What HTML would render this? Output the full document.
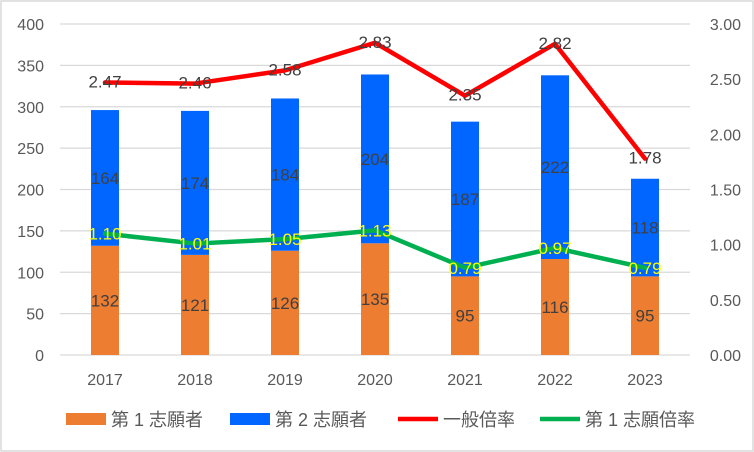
<!DOCTYPE html>
<html><head><meta charset="utf-8"><style>
body{margin:0;background:#fff}
svg{display:block;font-family:"Liberation Sans","Noto Sans CJK JP",sans-serif}
</style></head><body>
<svg id="c" width="754" height="452">
<rect x="1" y="1" width="752" height="450" fill="#fff" stroke="#d9d9d9" stroke-width="1.5"/>
</svg>
<script>
const years=["2017","2018","2019","2020","2021","2022","2023"];
const first=[132,121,126,135,95,116,95];
const second=[164,174,184,204,187,222,118];
const general=[2.47,2.46,2.58,2.83,2.35,2.82,1.78];
const firstRatio=[1.10,1.01,1.05,1.13,0.79,0.97,0.79];
const leftTicks=[0,50,100,150,200,250,300,350,400];
const rightTicks=[0,0.5,1,1.5,2,2.5,3];
const NS="http://www.w3.org/2000/svg";
const svg=document.getElementById('c');
const L=60,R=690,T=24,B=355;
const yL=v=>B-(v/400)*(B-T);
const yR=v=>B-(v/3)*(B-T);
const xC=i=>L+(R-L)/years.length*(i+0.5);
function mk(tag,attrs,txt){const e=document.createElementNS(NS,tag);for(const k in attrs)e.setAttribute(k,attrs[k]);if(txt!==undefined)e.textContent=txt;svg.appendChild(e);return e;}
leftTicks.forEach(v=>{
 const g=mk('line',{x1:L,x2:R,y1:yL(v),y2:yL(v),stroke:'#d9d9d9','stroke-width':1.3});
 
 
 const t=mk('text',{x:44,y:yL(v)+6,'text-anchor':'end','font-size':16,fill:'#595959'},String(v));
 
 
});
rightTicks.forEach(v=>{
 const t=mk('text',{x:741,y:yR(v)+6,'text-anchor':'end','font-size':16,fill:'#595959'},v.toFixed(2));
 
 
});
years.forEach((y,i)=>{
 const x=xC(i),w=28;
 const b1=mk('rect',{x:x-w/2,y:yL(first[i]),width:w,height:B-yL(first[i]),fill:'#ed7d31'});
 
 
 const b2=mk('rect',{x:x-w/2,y:yL(first[i]+second[i]),width:w,height:yL(first[i])-yL(first[i]+second[i]),fill:'#0066ff'});
 
 
 const t=mk('text',{x:x,y:B+30,'text-anchor':'middle','font-size':16,fill:'#595959'},y);
 
 
});
years.forEach((y,i)=>{
 const x=xC(i);
 const l1=mk('text',{x:x,y:(yL(first[i])+B)/2+6,'text-anchor':'middle','font-size':17,fill:'#404040'},String(first[i]));
 
 
 const l2=mk('text',{x:x,y:(yL(first[i])+yL(first[i]+second[i]))/2+6,'text-anchor':'middle','font-size':17,fill:'#404040'},String(second[i]));
 
 
});
function line(arr,color,name){
 const p=mk('polyline',{points:arr.map((v,i)=>xC(i)+','+yR(v)).join(' '),fill:'none',stroke:color,'stroke-width':4.5,'stroke-linejoin':'round','stroke-linecap':'round'});
 
 
}
line(general,'#ff0000','line-general-ratio');
line(firstRatio,'#00b050','line-first-ratio');
general.forEach((v,i)=>{
 const t=mk('text',{x:xC(i),y:yR(v)+5,'text-anchor':'middle','font-size':17,fill:'#404040'},v.toFixed(2));
 
 
});
firstRatio.forEach((v,i)=>{
 const t=mk('text',{x:xC(i),y:yR(v)+6,'text-anchor':'middle','font-size':17,fill:'#ffff00'},v.toFixed(2));
 
 
});
const leg=[['rect','#ed7d31','第 1 志願者',66],['rect','#0066ff','第 2 志願者',230],['line','#ff0000','一般倍率',398],['line','#00b050','第 1 志願倍率',540]];
leg.forEach(l=>{
 let s;
 if(l[0]==='rect') s=mk('rect',{x:l[3],y:413,width:40,height:12,fill:l[1]});
 else s=mk('line',{x1:l[3],x2:l[3]+40,y1:419,y2:419,stroke:l[1],'stroke-width':4.5});
 
 
 const t=mk('text',{x:l[3]+45,y:426,'font-size':18,fill:'#595959'},l[2]);
 
 
});
</script>
</body></html>
